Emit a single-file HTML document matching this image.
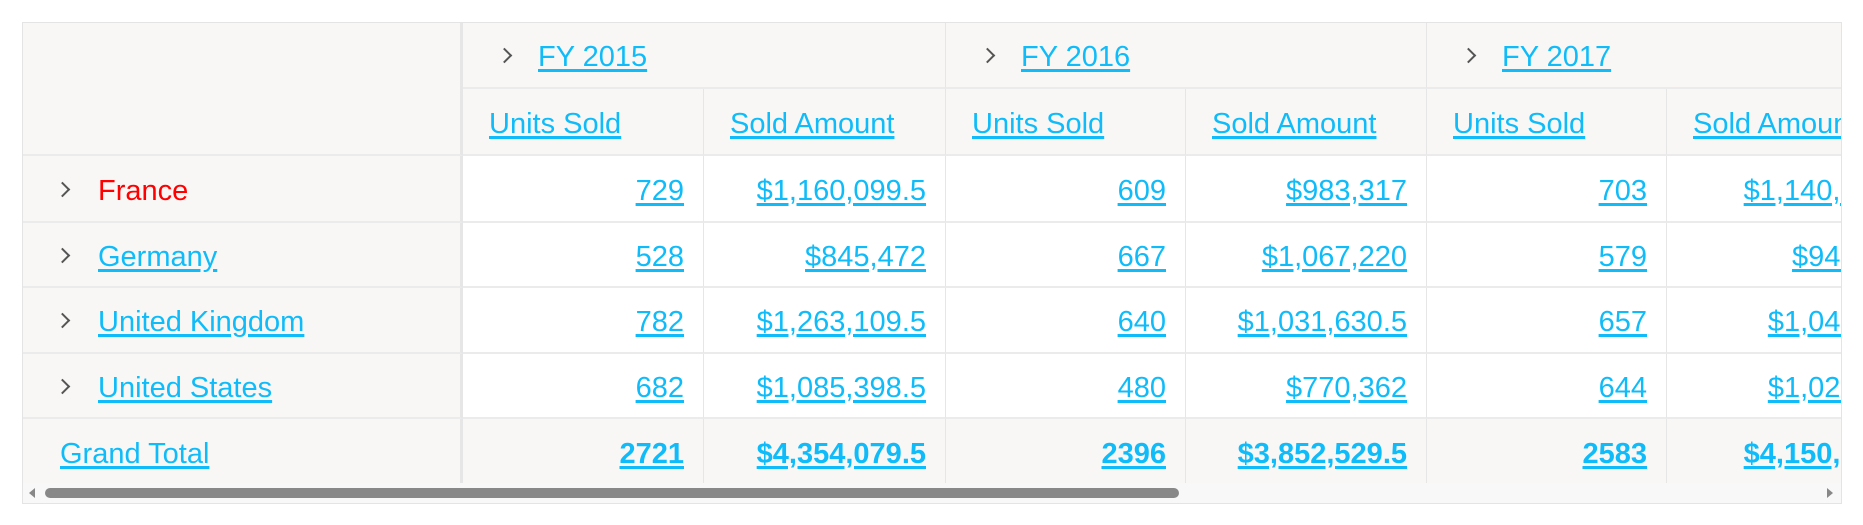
<!DOCTYPE html>
<html><head><meta charset="utf-8"><style>
body{margin:0;width:1863px;height:525px;background:#fff;font-family:"Liberation Sans",sans-serif;overflow:hidden;position:relative}
#grid{position:absolute;left:22px;top:22px;width:1820px;height:482px;border:1px solid #e4e4e4;box-sizing:border-box;overflow:hidden;background:#f8f7f6}
.c{position:absolute;box-sizing:border-box;border-right:1px solid #e6e6e6;border-bottom:2px solid #ebebeb;font-size:29px;line-height:29px;display:flex;align-items:center;white-space:nowrap;padding-top:5px}
.h{background:#f8f7f6}
.d{background:#fff;justify-content:flex-end;padding-right:19px}
.t{background:#f8f7f6;justify-content:flex-end;padding-right:19px;font-weight:bold}
a{color:#0fbcf9;text-decoration:underline;text-decoration-thickness:3px;text-underline-offset:3px}
.chev{display:inline-block;flex:none;width:9px;height:9px;border-right:2px solid #555;border-top:2px solid #555;transform:rotate(45deg);margin-right:30px;margin-top:-4px}
.rh{border-right:3px solid #e6e6e6}
</style></head><body>
<div id="grid"></div>
<div style="position:absolute;left:23px;top:483px;width:1818px;height:20px;background:#f8f8f8">
<div style="position:absolute;left:6px;top:5px;width:0;height:0;border-top:5px solid transparent;border-bottom:5px solid transparent;border-right:6px solid #888"></div>
<div style="position:absolute;left:22px;top:5px;width:1134px;height:10px;border-radius:5px;background:#888"></div>
<div style="position:absolute;left:1804px;top:5px;width:0;height:0;border-top:5px solid transparent;border-bottom:5px solid transparent;border-left:6px solid #888"></div>
</div>
<script>
const years=["FY 2015","FY 2016","FY 2017"];
const countries=["France","Germany","United Kingdom","United States"];
const units=[[729,609,703],[528,667,579],[782,640,657],[682,480,644]];
const amounts=[["$1,160,099.5","$983,317","$1,140,921.5"],["$845,472","$1,067,220","$945,234"],["$1,263,109.5","$1,031,630.5","$1,041,056"],["$1,085,398.5","$770,362","$1,022,556"]];
const totUnits=[2721,2396,2583];
const totAmounts=["$4,354,079.5","$3,852,529.5","$4,150,767.5"];
const g=document.getElementById('grid');
const colX=[0,440,681,923,1163,1404,1644,1910];
const rowY=[0,66,133,200,265,331,396,461];
function cell(x,y,w,h,cls,html,name,inter){const e=document.createElement('div');e.className='c '+cls;e.style.left=x+'px';e.style.top=y+'px';e.style.width=w+'px';e.style.height=h+'px';e.innerHTML=html;


g.appendChild(e);return e;}
cell(0,0,440,133,'h rh','','corner-header',false);
years.forEach((y,i)=>{const e=cell(colX[1+2*i],0,colX[3+2*i]-colX[1+2*i],66,'h','<span class="chev" style="margin-right:28px"></span><a>'+y+'</a>','year-header-'+y.slice(3),true);e.style.paddingLeft='36px';
const u=cell(colX[1+2*i],66,colX[2+2*i]-colX[1+2*i],67,'h','<a>Units Sold</a>','units-sold-header',true);u.style.paddingLeft='26px';
const a=cell(colX[2+2*i],66,colX[3+2*i]-colX[2+2*i],67,'h','<a>Sold Amount</a>','sold-amount-header',true);a.style.paddingLeft='26px';});
countries.forEach((c,r)=>{const y=rowY[2+r],h=rowY[3+r]-y;
const lab=r===0?'<span style="color:#f00">'+c+'</span>':'<a>'+c+'</a>';
const e=cell(0,y,440,h,'h rh','<span class="chev"></span>'+lab,'row-header-'+c.toLowerCase().replace(/ /g,'-'),true);e.style.paddingLeft='34px';
years.forEach((yy,i)=>{cell(colX[1+2*i],y,colX[2+2*i]-colX[1+2*i],h,'d','<a>'+units[r][i]+'</a>','units-cell',true);
cell(colX[2+2*i],y,colX[3+2*i]-colX[2+2*i],h,'d','<a>'+amounts[r][i]+'</a>','amount-cell',true);});});
const ty=rowY[6],th=rowY[7]-ty;
const gt=cell(0,ty,440,th,'h rh','<a>Grand Total</a>','grand-total-label',true);gt.style.paddingLeft='37px';gt.style.borderBottom='none';
years.forEach((yy,i)=>{const a=cell(colX[1+2*i],ty,colX[2+2*i]-colX[1+2*i],th,'t','<a>'+totUnits[i]+'</a>','total-units-cell',true);a.style.borderBottom='none';
const b=cell(colX[2+2*i],ty,colX[3+2*i]-colX[2+2*i],th,'t','<a>'+totAmounts[i]+'</a>','total-amount-cell',true);b.style.borderBottom='none';});
</script>
</body></html>
